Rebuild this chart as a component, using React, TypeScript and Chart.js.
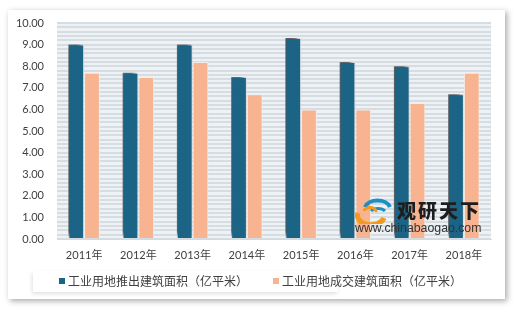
import React, { useEffect, useRef } from "react";
import { Chart, registerables } from "chart.js";

Chart.register(...registerables);

const categories = ["2011年", "2012年", "2013年", "2014年", "2015年", "2016年", "2017年", "2018年"];
const seriesNames = ["工业用地推出建筑面积（亿平米）", "工业用地成交建筑面积（亿平米）"];
const supplyValues = [9.0, 7.7, 9.0, 7.5, 9.3, 8.2, 8.0, 6.7];
const dealValues = [7.7, 7.5, 8.2, 6.7, 6.0, 6.0, 6.3, 7.7];
const yMin = 0;
const yMax = 10;
const yStripeStep = 0.2;

const BLUE = "#1b6486";
const ORANGE = "#f8b491";

const plotBg = {
  id: "plotBg",
  beforeDraw(chart: any) {
    const { ctx, chartArea } = chart;
    if (!chartArea) return;
    ctx.save();
    ctx.fillStyle = "#eef2f5";
    ctx.fillRect(chartArea.left, chartArea.top, chartArea.right - chartArea.left, chartArea.bottom - chartArea.top);
    ctx.restore();
  },
};

const barShadow = {
  id: "barShadow",
  beforeDatasetDraw(chart: any, args: any) {
    if (args.index === 0) {
      const ctx = chart.ctx;
      ctx.save();
      ctx.shadowColor = "rgba(0,0,0,0.65)";
      ctx.shadowBlur = 4;
      ctx.shadowOffsetX = -3;
      ctx.shadowOffsetY = -3;
    }
  },
  afterDatasetDraw(chart: any, args: any) {
    if (args.index === 0) chart.ctx.restore();
  },
};

function Logo() {
  return (
    <svg width="38" height="26" viewBox="0 0 38 26" style={{ position: "absolute", left: 355, top: 198 }}>
      <path d="M10 9 A13 9 0 0 1 35 9" stroke="#1f8ec2" strokeWidth="4" fill="none" />
      <path d="M16 13 A8 5 0 0 1 30 13" stroke="#1f8ec2" strokeWidth="3" fill="none" />
      <path d="M3 15 A13 9 0 0 0 29 20" stroke="#f29a1e" strokeWidth="5" fill="none" />
      <path d="M9 13 A6 4 0 0 1 21 14" stroke="#f29a1e" strokeWidth="3" fill="none" />
    </svg>
  );
}

export default function App() {
  const ref = useRef<HTMLCanvasElement>(null);

  useEffect(() => {
    if (!ref.current) return;
    const tickFont = { family: "Lato, 'Noto Sans CJK SC', sans-serif", size: 11 };
    const chart = new Chart(ref.current, {
      type: "bar",
      data: {
        labels: categories,
        datasets: [
          {
            label: seriesNames[0],
            data: supplyValues,
            backgroundColor: BLUE,
            borderColor: "#e3eaef",
            borderWidth: 1,
            categoryPercentage: 0.58,
            barPercentage: 1,
          },
          {
            label: seriesNames[1],
            data: dealValues,
            backgroundColor: ORANGE,
            borderColor: "#f3eee9",
            borderWidth: 1,
            categoryPercentage: 0.58,
            barPercentage: 1,
          },
        ],
      },
      options: {
        responsive: false,
        animation: false,
        devicePixelRatio: 1,
        layout: { padding: { left: 0, right: 29, top: 23, bottom: 0 } },
        plugins: {
          legend: { display: false },
          tooltip: { enabled: false },
        },
        scales: {
          x: {
            grid: { display: false, drawTicks: false },
            border: { display: true, color: "#d5d9dc" },
            ticks: { padding: 10, color: "#404040", font: tickFont },
            afterFit(s: any) {
              s.height = 73;
            },
          },
          y: {
            min: yMin,
            max: yMax,
            grid: { color: "#d5dde3", lineWidth: 2, drawTicks: false },
            border: { display: false },
            ticks: {
              stepSize: yStripeStep,
              maxTicksLimit: 200,
              autoSkip: false,
              padding: 13,
              color: "#404040",
              font: tickFont,
              callback: (v: any) => {
                const n = Number(v);
                return Math.abs(n - Math.round(n)) < 1e-6 ? Math.round(n).toFixed(2) : "";
              },
            },
            afterFit(s: any) {
              s.width = 57;
            },
          },
        },
      },
      plugins: [plotBg, barShadow],
    });
    return () => chart.destroy();
  }, []);

  const legendText: React.CSSProperties = {
    position: "absolute",
    top: 272,
    fontFamily: "'Noto Sans CJK SC', sans-serif",
    fontSize: 12,
    lineHeight: "18px",
    color: "#404040",
    whiteSpace: "nowrap",
  };

  return (
    <div style={{ position: "fixed", left: 0, top: 0, width: 520, height: 312, background: "#ffffff", overflow: "hidden" }}>
      <div
        style={{
          position: "absolute",
          left: 8,
          top: 10,
          width: 497,
          height: 289,
          background: "#ffffff",
          boxShadow: "2px 2px 6px rgba(0,0,0,0.35)",
        }}
      />
      <div
        style={{
          position: "absolute",
          left: 33,
          top: 271,
          width: 305,
          height: 21,
          background: "#ffffff",
          boxShadow: "-1px 2px 4px rgba(0,0,0,0.12)",
        }}
      />
      <canvas ref={ref} width={520} height={312} style={{ position: "absolute", left: 0, top: 0, width: 520, height: 312 }} />
      <div style={{ position: "absolute", left: 59, top: 278, width: 6, height: 6, background: BLUE }} />
      <div style={{ ...legendText, left: 68 }}>{seriesNames[0]}</div>
      <div style={{ position: "absolute", left: 273, top: 278, width: 6, height: 6, background: ORANGE }} />
      <div style={{ ...legendText, left: 282 }}>{seriesNames[1]}</div>
      <Logo />
      <div
        style={{
          position: "absolute",
          left: 397,
          top: 199,
          fontFamily: "'Noto Sans CJK SC', sans-serif",
          fontWeight: 900,
          fontSize: 19,
          letterSpacing: 2,
          lineHeight: "22px",
          color: "#1e1e1e",
          whiteSpace: "nowrap",
        }}
      >
        观研天下
      </div>
      <div
        style={{
          position: "absolute",
          left: 355,
          top: 221,
          fontFamily: "'Liberation Sans', Arial, sans-serif",
          fontSize: 12.3,
          lineHeight: "15px",
          color: "#333333",
          whiteSpace: "nowrap",
        }}
      >
        www.chinabaogao.com
      </div>
    </div>
  );
}
